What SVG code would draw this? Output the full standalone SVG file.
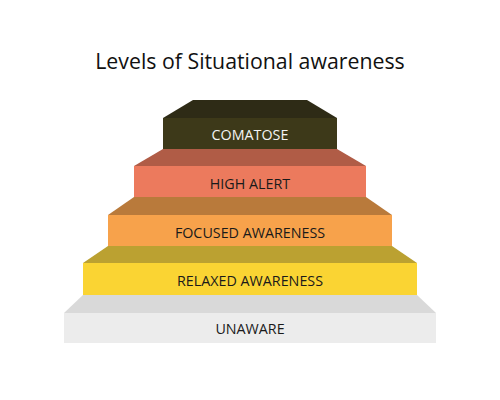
<svg xmlns="http://www.w3.org/2000/svg" width="500" height="400" viewBox="0 0 500 400">
<style>
.title{font-family:"Open Sans","Noto Sans",sans-serif;font-size:21.3px;fill:#111;text-anchor:middle}
.lbl{font-family:"Open Sans","Noto Sans",sans-serif;font-size:14.3px;fill:#1a1a1a;text-anchor:middle}
.lblw{font-family:"Open Sans","Noto Sans",sans-serif;font-size:14.3px;fill:#f4f4f4;text-anchor:middle}
</style>
<rect width="500" height="400" fill="#ffffff"/>
<text class="title" x="250" y="69">Levels of Situational awareness</text>
<g id="unaware">
<polygon points="83,295 417,295 436,313 64,313" fill="#d9d9d9"/>
<rect x="64" y="313" width="372" height="30" fill="#ececec"/>
<text class="lbl" x="250" y="334">UNAWARE</text>
</g>
<g id="relaxed">
<polygon points="108,246 392,246 417,263 83,263" fill="#bba131"/>
<rect x="83" y="263" width="334" height="32" fill="#fad433"/>
<text class="lbl" x="250" y="285.5">RELAXED AWARENESS</text>
</g>
<g id="focused">
<polygon points="134,197 366,197 392,215 108,215" fill="#b97a3b"/>
<rect x="108" y="215" width="284" height="31" fill="#f7a24b"/>
<text class="lbl" x="250" y="238">FOCUSED AWARENESS</text>
</g>
<g id="high-alert">
<polygon points="163,149 337,149 366,166 134,166" fill="#b05c46"/>
<rect x="134" y="166" width="232" height="31" fill="#ec7a5d"/>
<text class="lbl" x="250" y="189">HIGH ALERT</text>
</g>
<g id="comatose">
<polygon points="193,100 307,100 337,118 163,118" fill="#2e2b16"/>
<rect x="163" y="118" width="174" height="31" fill="#3d3919"/>
<text class="lblw" x="250" y="140">COMATOSE</text>
</g>
<g id="connectors"></g>
</svg>
